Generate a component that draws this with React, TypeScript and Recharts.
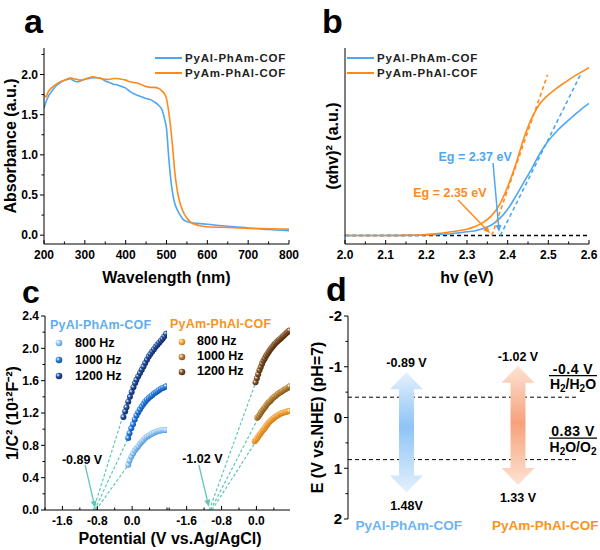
import React from 'react';
import {
  LineChart, Line, ScatterChart, Scatter, BarChart, Bar,
  XAxis, YAxis, ReferenceLine, ReferenceDot, Legend,
} from 'recharts';

const FONT = '"Liberation Sans", Arial, Helvetica, sans-serif';
const BLUE = '#4ea7f2';
const ORANGE = '#ff8a1c';
const TEAL = '#5ec7b5';
const seriesNames = ['PyAl-PhAm-COF', 'PyAm-PhAl-COF'];

// (a) UV-vis absorbance
const wavelength = [200, 205, 210, 220, 230, 240, 250, 260, 265, 270, 280, 290, 300, 310, 320, 330, 340, 350, 360, 370, 380, 390, 400, 410, 420, 430, 440, 450, 460, 470, 480, 490, 495, 500, 505, 510, 515, 520, 525, 530, 540, 550, 560, 580, 600, 650, 700, 750, 800];
const absPyAlPhAm = [1.58, 1.66, 1.72, 1.8, 1.86, 1.9, 1.93, 1.94, 1.95, 1.93, 1.91, 1.92, 1.94, 1.95, 1.96, 1.96, 1.95, 1.92, 1.9, 1.88, 1.87, 1.85, 1.83, 1.79, 1.76, 1.74, 1.72, 1.7, 1.69, 1.66, 1.62, 1.55, 1.45, 1.33, 1.0, 0.72, 0.52, 0.4, 0.33, 0.28, 0.2, 0.17, 0.155, 0.145, 0.135, 0.11, 0.09, 0.07, 0.055];
const absPyAmPhAl = [1.75, 1.72, 1.78, 1.84, 1.88, 1.91, 1.93, 1.95, 1.96, 1.95, 1.94, 1.93, 1.94, 1.96, 1.97, 1.96, 1.95, 1.94, 1.94, 1.95, 1.95, 1.94, 1.93, 1.91, 1.9, 1.89, 1.87, 1.85, 1.84, 1.84, 1.83, 1.79, 1.76, 1.7, 1.55, 1.35, 1.1, 0.8, 0.6, 0.46, 0.3, 0.21, 0.16, 0.12, 0.105, 0.095, 0.085, 0.08, 0.075];
const ticksAx = [200, 250, 300, 350, 400, 450, 500, 550, 600, 650, 700, 750, 800];
const labelsAx = [200, 300, 400, 500, 600, 700, 800];
const ticksAy = [0, 0.25, 0.5, 0.75, 1, 1.25, 1.5, 1.75, 2, 2.25];
const labelsAy = [0, 0.5, 1, 1.5, 2];

// (b) Tauc plot
const photonEnergy = [2.0, 2.05, 2.1, 2.15, 2.2, 2.22, 2.24, 2.26, 2.28, 2.3, 2.32, 2.34, 2.36, 2.38, 2.4, 2.42, 2.44, 2.46, 2.48, 2.5, 2.52, 2.54, 2.56, 2.58, 2.6];
const taucPyAlPhAm = [0, 0, 0, 0.1, 0.3, 0.4, 0.7, 1.0, 1.5, 2.0, 2.6, 3.8, 5.6, 9, 14, 21, 28.5, 36, 44, 50.5, 55.5, 59.7, 63.5, 67.2, 70.5];
const taucPyAmPhAl = [0, 0, 0.05, 0.2, 0.6, 0.9, 1.4, 2.0, 2.6, 3.4, 4.8, 7.0, 10.5, 16.5, 26, 38, 52, 63, 70.5, 75, 78.5, 81.5, 84.5, 87, 89.6];
const ticksBx = [2.0, 2.05, 2.1, 2.15, 2.2, 2.25, 2.3, 2.35, 2.4, 2.45, 2.5, 2.55, 2.6];
const labelsBx = [2.0, 2.1, 2.2, 2.3, 2.4, 2.5, 2.6];
const fitBStart = [2.382, 2.361];
const fitBEnd = [[2.581, 86.6], [2.498, 85.7]];
const egLabels = ['Eg = 2.37 eV', 'Eg = 2.35 eV'];
const egText = [[2.32, 42], [2.258, 22.7]];
const egArrow = [[[2.364, 38.7], [2.379, 1.9]], [[2.278, 19], [2.357, 1.2]]];

// (c) Mott-Schottky
const freqLabels = ['800 Hz', '1000 Hz', '1200 Hz'];
const msAlX = [-0.09, -0.06, -0.02, 0.02, 0.06, 0.1, 0.14, 0.18, 0.22, 0.26, 0.3, 0.34, 0.38, 0.42, 0.46, 0.5, 0.54, 0.58, 0.62, 0.66, 0.7, 0.74, 0.78];
const msAl800 = [0.56, 0.61, 0.66, 0.7, 0.735, 0.765, 0.79, 0.82, 0.845, 0.865, 0.89, 0.905, 0.92, 0.935, 0.945, 0.955, 0.965, 0.975, 0.98, 0.985, 0.99, 0.99, 0.99];
const msAl1000 = [0.89, 0.95, 1.01, 1.06, 1.12, 1.17, 1.21, 1.245, 1.28, 1.31, 1.34, 1.365, 1.385, 1.405, 1.42, 1.44, 1.455, 1.47, 1.485, 1.5, 1.51, 1.52, 1.53];
const msAl1200X = [-0.2, -0.16, -0.13, -0.09, -0.05, -0.01, 0.03, 0.07, 0.1, 0.14, 0.18, 0.22, 0.26, 0.3, 0.34, 0.38, 0.42, 0.46, 0.5, 0.54, 0.58, 0.62, 0.66, 0.7, 0.74, 0.78];
const msAl1200 = [1.15, 1.22, 1.27, 1.34, 1.4, 1.46, 1.52, 1.57, 1.61, 1.655, 1.695, 1.735, 1.775, 1.82, 1.86, 1.9, 1.93, 1.96, 1.99, 2.02, 2.045, 2.07, 2.095, 2.12, 2.15, 2.18];
const msAm800X = [-0.04, -0.01, 0.02, 0.05, 0.08, 0.11, 0.14, 0.17, 0.2, 0.23, 0.26, 0.29, 0.32, 0.35, 0.38, 0.41, 0.44, 0.47, 0.5, 0.53, 0.56, 0.59, 0.62, 0.65, 0.68, 0.71, 0.74, 0.76];
const msAm800 = [0.85, 0.87, 0.89, 0.915, 0.935, 0.96, 0.98, 1.0, 1.02, 1.045, 1.065, 1.085, 1.1, 1.115, 1.13, 1.145, 1.155, 1.165, 1.175, 1.185, 1.195, 1.2, 1.205, 1.21, 1.215, 1.22, 1.225, 1.225];
const msAm1000X = [0.02, 0.05, 0.08, 0.11, 0.14, 0.17, 0.2, 0.23, 0.26, 0.29, 0.32, 0.35, 0.38, 0.41, 0.44, 0.47, 0.5, 0.53, 0.56, 0.59, 0.62, 0.65, 0.68, 0.71, 0.74, 0.76];
const msAm1000 = [1.14, 1.16, 1.185, 1.21, 1.235, 1.255, 1.275, 1.3, 1.32, 1.335, 1.35, 1.37, 1.385, 1.4, 1.41, 1.425, 1.44, 1.45, 1.46, 1.47, 1.48, 1.49, 1.5, 1.51, 1.52, 1.53];
const msAm1200X = [-0.02, 0.01, 0.04, 0.07, 0.1, 0.13, 0.16, 0.19, 0.22, 0.25, 0.28, 0.31, 0.34, 0.37, 0.4, 0.43, 0.46, 0.49, 0.52, 0.55, 0.58, 0.61, 0.64, 0.67, 0.7, 0.73, 0.76];
const msAm1200 = [1.58, 1.63, 1.68, 1.73, 1.77, 1.81, 1.845, 1.875, 1.905, 1.93, 1.955, 1.98, 2.0, 2.02, 2.04, 2.06, 2.075, 2.09, 2.105, 2.12, 2.135, 2.15, 2.165, 2.18, 2.195, 2.21, 2.22];
const fitAl = [[-0.83, -0.03, 0.6], [-0.86, 0.02, 1.02], [-0.89, 0.02, 1.56]];
const fitAm = [[-1.02, 0.05, 0.9], [-1.05, 0.15, 1.25], [-1.08, 0.2, 1.9]];
const flatBand = ['-0.89 V', '-1.02 V'];
const ticksCxL = [-2.0, -1.6, -1.2, -0.8, -0.4, 0, 0.4, 0.8];
const ticksCxR = [-2.0, -1.6, -1.2, -0.8, -0.4, 0, 0.4];
const labelsCx = [-1.6, -0.8, 0];
const ticksCy = [0, 0.2, 0.4, 0.6, 0.8, 1.0, 1.2, 1.4, 1.6, 1.8, 2.0, 2.2, 2.4];
const labelsCy = [0, 0.4, 0.8, 1.2, 1.6, 2.0, 2.4];

// (d) band positions
const cbValues = [-0.89, -1.02];
const vbValues = [1.48, 1.33];
const cbLabels = ['-0.89 V', '-1.02 V'];
const vbLabels = ['1.48V', '1.33 V'];
const ticksDy = [-2, -1.5, -1, -0.5, 0, 0.5, 1, 1.5, 2];
const labelsDy = [-2, -1, 0, 1, 2];

const dataA = wavelength.map((w, i) => ({ w, s1: absPyAlPhAm[i], s2: absPyAmPhAl[i] }));
const dataB = photonEnergy.map((e, i) => ({ e, s1: taucPyAlPhAm[i], s2: taucPyAmPhAl[i] }));
const toPts = (xs: number[], ys: number[]) => xs.map((x, i) => ({ x, y: ys[i] }));
const bandData = seriesNames.map((name, i) => ({ name, band: [cbValues[i], vbValues[i]], cb: cbLabels[i], vb: vbLabels[i] }));

const msLeft = [
  { id: 'al800', data: toPts(msAlX, msAl800), base: '#9fcdf5', dark: '#4f95d8' },
  { id: 'al1000', data: toPts(msAlX, msAl1000), base: '#2a84e6', dark: '#0f4ca6' },
  { id: 'al1200', data: toPts(msAl1200X, msAl1200), base: '#2656a6', dark: '#0b2460' },
];
const msRight = [
  { id: 'am800', data: toPts(msAm800X, msAm800), base: '#f7a83e', dark: '#cf7810' },
  { id: 'am1000', data: toPts(msAm1000X, msAm1000), base: '#c08a3c', dark: '#7a5218' },
  { id: 'am1200', data: toPts(msAm1200X, msAm1200), base: '#8a5a2a', dark: '#45260a' },
];

const has = (list: number[], v: number) => list.some((t) => Math.abs(t - v) < 1e-6);

const xTick = (labelled: number[], fmt: (v: number) => string) => (p: any) => {
  const v = p.payload.value;
  const major = has(labelled, v);
  return (
    <g>
      <line x1={p.x} x2={p.x} y1={p.y} y2={p.y - (major ? 4 : 2.5)} stroke="#000" />
      {major && (
        <text x={p.x} y={p.y + 15} textAnchor="middle" fontSize={12} fontWeight="bold" fill="#000">{fmt(v)}</text>
      )}
    </g>
  );
};

const yTick = (labelled: number[], fmt: (v: number) => string, fs = 12) => (p: any) => {
  const v = p.payload.value;
  const major = has(labelled, v);
  return (
    <g>
      <line x1={p.x} x2={p.x - (major ? 4 : 2.5)} y1={p.y} y2={p.y} stroke="#000" />
      {major && (
        <text x={p.x - 6} y={p.y + fs * 0.36} textAnchor="end" fontSize={fs} fontWeight="bold" fill="#000">{fmt(v)}</text>
      )}
    </g>
  );
};

const arrowShape = (color: string, w = 1.3) => (p: any) => {
  const { x1, y1, x2, y2 } = p;
  const a = Math.atan2(y2 - y1, x2 - x1);
  const hx = x2 - 7 * Math.cos(a);
  const hy = y2 - 7 * Math.sin(a);
  const px = -Math.sin(a) * 3;
  const py = Math.cos(a) * 3;
  return (
    <g>
      <line x1={x1} y1={y1} x2={hx} y2={hy} stroke={color} strokeWidth={w} />
      <polygon points={`${x2},${y2} ${hx + px},${hy + py} ${hx - px},${hy - py}`} fill={color} />
    </g>
  );
};

const lineLegend = () => (
  <div style={{ fontFamily: FONT, fontSize: 11.5, fontWeight: 'bold', letterSpacing: 0.8 }}>
    {seriesNames.map((n, i) => (
      <div key={n} style={{ display: 'flex', alignItems: 'center', height: 15 }}>
        <span style={{ display: 'inline-block', width: 27, height: 2, background: i === 0 ? BLUE : ORANGE, marginRight: 3 }} />
        <span style={{ color: '#222' }}>{n}</span>
      </div>
    ))}
  </div>
);

const sphereLegend = (title: string, color: string, series: any[], dotX: number, textX: number, rowH: number) => () => (
  <div style={{ fontFamily: FONT, fontWeight: 'bold', position: 'relative', width: 120 }}>
    <div style={{ height: 20, lineHeight: '20px', fontSize: 12.5, color, letterSpacing: 0.2 }}>{title}</div>
    {series.map((s, i) => (
      <div key={s.id} style={{ height: rowH, position: 'relative' }}>
        <svg width={10} height={10} style={{ position: 'absolute', left: dotX - 5, top: rowH / 2 - 5 }}>
          <defs>
            <radialGradient id={`lg-${s.id}`} cx="35%" cy="35%" r="70%">
              <stop offset="0%" stopColor="#ffffff" />
              <stop offset="40%" stopColor={s.base} />
              <stop offset="100%" stopColor={s.dark} />
            </radialGradient>
          </defs>
          <circle cx={5} cy={5} r={3.3} fill={`url(#lg-${s.id})`} />
        </svg>
        <span style={{ position: 'absolute', left: textX, top: 0, lineHeight: `${rowH}px`, fontSize: 12.5, color: '#000' }}>{freqLabels[i]}</span>
      </div>
    ))}
  </div>
);

const sphere = (id: string) => (p: any) => <circle cx={p.cx} cy={p.cy} r={3} fill={`url(#sp-${id})`} />;

const sphereDefs = (series: any[]) => (
  <defs>
    {series.map((s) => (
      <radialGradient key={s.id} id={`sp-${s.id}`} cx="35%" cy="35%" r="70%">
        <stop offset="0%" stopColor="#ffffff" />
        <stop offset="40%" stopColor={s.base} />
        <stop offset="100%" stopColor={s.dark} />
      </radialGradient>
    ))}
  </defs>
);

const BandArrow = (p: any) => {
  const { x, y, width, height, index, payload } = p;
  const top = Math.min(y, y + height);
  const bot = Math.max(y, y + height);
  const cx = x + width / 2;
  const hw = 16.5;
  const sw = 7.5;
  const hl = 17;
  const pts = [
    [cx, top], [cx + hw, top + hl], [cx + sw, top + hl], [cx + sw, bot - hl], [cx + hw, bot - hl],
    [cx, bot], [cx - hw, bot - hl], [cx - sw, bot - hl], [cx - sw, top + hl], [cx - hw, top + hl],
  ].map((q) => q.join(',')).join(' ');
  return (
    <g>
      <polygon points={pts} fill={`url(#band-${index})`} />
      <text x={cx} y={top - 5} textAnchor="middle" fontSize={12.5} fontWeight="bold" fill="#000">{payload.cb}</text>
      <text x={cx} y={bot + 17} textAnchor="middle" fontSize={12.5} fontWeight="bold" fill="#000">{payload.vb}</text>
    </g>
  );
};

const redoxLabel = (top: string, sub: React.ReactNode) => (p: any) => {
  const vb = p.viewBox || { x: 0, y: 0, width: 0 };
  const cx = vb.x + vb.width - 4;
  const y = vb.y;
  return (
    <g>
      <text x={cx} y={y - 23.5} textAnchor="middle" fontSize={14} fontWeight="bold" fill="#000" letterSpacing={0.5}>{top}</text>
      <line x1={cx - 24} x2={cx + 24} y1={y - 21.5} y2={y - 21.5} stroke="#000" strokeWidth={1.3} />
      <text x={cx} y={y - 8} textAnchor="middle" fontSize={14} fontWeight="bold" fill="#000">{sub}</text>
    </g>
  );
};

const catColors = ['#6cb4f5', '#f7941d'];
const catDx = [2, 27];
const catTick = (p: any) => (
  <text x={p.x + catDx[p.index]} y={p.y + 11} textAnchor="middle" fontSize={13.5} fontWeight="bold" fill={catColors[p.index]}>{p.payload.value}</text>
);

const axisTitle = { fill: '#000', fontSize: 16, fontWeight: 'bold' };

export default function App() {
  return (
    <div style={{ position: 'absolute', left: 0, top: 0, width: 600, height: 550, background: '#fff', fontFamily: FONT }}>
      {/* a */}
      <div style={{ position: 'absolute', left: 0, top: 0 }}>
        <LineChart width={300} height={290} data={dataA} margin={{ top: 48, right: 11, bottom: 0, left: 0 }}>
          <XAxis dataKey="w" type="number" domain={[200, 800]} allowDataOverflow ticks={ticksAx} interval={0} height={46}
            tickSize={0} tickMargin={0} tickLine={false} stroke="#000" tick={xTick(labelsAx, (v) => String(v))}
            label={{ value: 'Wavelength (nm)', position: 'insideBottom', offset: 7, ...axisTitle }} />
          <XAxis xAxisId="top" orientation="top" dataKey="w" type="number" domain={[200, 800]} height={0} tick={false} tickLine={false} stroke="#000" />
          <YAxis type="number" domain={[-0.11, 2.33]} allowDataOverflow ticks={ticksAy} interval={0} width={44}
            tickSize={0} tickMargin={0} tickLine={false} stroke="#000" tick={yTick(labelsAy, (v) => v.toFixed(1))}
            label={{ value: 'Absorbance (a.u.)', angle: -90, position: 'insideLeft', offset: 10, style: { textAnchor: 'middle' }, ...axisTitle }} />
          <YAxis yAxisId="r" orientation="right" type="number" domain={[-0.11, 2.33]} width={0} tick={false} tickLine={false} stroke="#000" />
          <Legend layout="vertical" align="center" verticalAlign="middle" content={lineLegend} wrapperStyle={{ left: 155, top: 50, width: 'auto' }} />
          <Line type="monotone" dataKey="s1" stroke={BLUE} strokeWidth={1.6} dot={false} isAnimationActive={false} />
          <Line type="monotone" dataKey="s2" stroke={ORANGE} strokeWidth={1.6} dot={false} isAnimationActive={false} />
        </LineChart>
      </div>

      {/* b */}
      <div style={{ position: 'absolute', left: 300, top: 0 }}>
        <LineChart width={300} height={290} data={dataB} margin={{ top: 48, right: 11, bottom: 0, left: 0 }}>
          <XAxis dataKey="e" type="number" domain={[2.0, 2.6]} allowDataOverflow ticks={ticksBx} interval={0} height={46}
            tickSize={0} tickMargin={0} tickLine={false} stroke="#000" tick={xTick(labelsBx, (v) => v.toFixed(1))}
            label={{ value: 'hv (eV)', position: 'insideBottom', offset: 7, ...axisTitle }} />
          <XAxis xAxisId="top" orientation="top" dataKey="e" type="number" domain={[2.0, 2.6]} height={0} tick={false} tickLine={false} stroke="#000" />
          <YAxis type="number" domain={[-4.5, 100]} allowDataOverflow width={45} tick={false} tickLine={false} stroke="#000"
            label={{ value: '(\u03B1hv)\u00B2 (a.u.)', angle: -90, position: 'insideLeft', offset: 32, style: { textAnchor: 'middle' }, ...axisTitle }} />
          <YAxis yAxisId="r" orientation="right" type="number" domain={[-4.5, 100]} width={0} tick={false} tickLine={false} stroke="#000" />
          <Legend layout="vertical" align="center" verticalAlign="middle" content={lineLegend} wrapperStyle={{ left: 47, top: 50, width: 'auto' }} />
          <ReferenceLine y={0} stroke="#000" strokeWidth={1.5} strokeDasharray="4 3" />
          <Line type="monotone" dataKey="s1" stroke={BLUE} strokeWidth={1.6} dot={false} isAnimationActive={false} />
          <Line type="monotone" dataKey="s2" stroke={ORANGE} strokeWidth={1.6} dot={false} isAnimationActive={false} />
          {fitBStart.map((x0, i) => (
            <ReferenceLine key={`fit${i}`} segment={[{ x: x0, y: 0 }, { x: fitBEnd[i][0], y: fitBEnd[i][1] }]}
              stroke={i === 0 ? BLUE : ORANGE} strokeWidth={1.6} strokeDasharray="4 3" />
          ))}
          {egArrow.map((seg, i) => (
            <ReferenceLine key={`arr${i}`} segment={[{ x: seg[0][0], y: seg[0][1] }, { x: seg[1][0], y: seg[1][1] }]}
              stroke={i === 0 ? BLUE : ORANGE} shape={arrowShape(i === 0 ? BLUE : ORANGE, 1.5)} />
          ))}
          {egLabels.map((t, i) => (
            <ReferenceDot key={t} x={egText[i][0]} y={egText[i][1]} r={0} fill="none" stroke="none"
              label={{ value: t, position: 'center', fill: i === 0 ? BLUE : ORANGE, fontSize: 12.5, fontWeight: 'bold' }} />
          ))}
        </LineChart>
      </div>

      {/* c left */}
      <div style={{ position: 'absolute', left: 0, top: 280 }}>
        <ScatterChart width={170} height={270} margin={{ top: 36, right: 3, bottom: 0, left: 0 }}>
          {sphereDefs(msLeft)}
          <XAxis dataKey="x" type="number" domain={[-2, 0.8]} allowDataOverflow ticks={ticksCxL} interval={0} height={40}
            tickSize={0} tickMargin={0} tickLine={false} stroke="#000" tick={xTick(labelsCx, (v) => v.toFixed(1))} />
          <XAxis xAxisId="top" orientation="top" dataKey="x" type="number" domain={[-2, 0.8]} height={0} tick={false} tickLine={false} stroke="#000" />
          <YAxis dataKey="y" type="number" domain={[0, 2.4]} allowDataOverflow ticks={ticksCy} interval={0} width={45}
            tickSize={0} tickMargin={0} tickLine={false} stroke="#000" tick={yTick(labelsCy, (v) => v.toFixed(1))}
            label={{ value: '1/C\u00B2 (10\u00B9\u00B2F\u207B\u00B2)', angle: -90, position: 'insideLeft', offset: 12, style: { textAnchor: 'middle' }, ...axisTitle }} />
          <YAxis yAxisId="r" orientation="right" type="number" domain={[0, 2.4]} width={0} tick={false} tickLine={false} stroke="#000" />
          <Legend layout="vertical" align="center" verticalAlign="middle" wrapperStyle={{ left: 50, top: 35, width: 'auto' }}
            content={sphereLegend(seriesNames[0], '#5fadf0', msLeft, 9, 25, 16.5)} />
          {msLeft.map((s) => (
            <Scatter key={s.id} data={s.data} shape={sphere(s.id)} isAnimationActive={false} />
          ))}
          {fitAl.map((f, i) => (
            <ReferenceLine key={`fa${i}`} segment={[{ x: f[0], y: 0 }, { x: f[1], y: f[2] }]} stroke={TEAL} strokeWidth={1.2} strokeDasharray="3 2" />
          ))}
          <ReferenceLine segment={[{ x: -1.08, y: 0.557 }, { x: -0.85, y: 0.025 }]} stroke={TEAL} shape={arrowShape(TEAL)} />
          <ReferenceDot x={-1.15} y={0.63} r={0} fill="none" stroke="none"
            label={{ value: flatBand[0], position: 'center', fill: '#000', fontSize: 12.5, fontWeight: 'bold' }} />
        </ScatterChart>
      </div>

      {/* c right */}
      <div style={{ position: 'absolute', left: 167, top: 280 }}>
        <ScatterChart width={133} height={270} margin={{ top: 36, right: 10, bottom: 0, left: 0 }}>
          {sphereDefs(msRight)}
          <XAxis dataKey="x" type="number" domain={[-2.05, 0.77]} allowDataOverflow ticks={ticksCxR} interval={0} height={40}
            tickSize={0} tickMargin={0} tickLine={false} stroke="#000" tick={xTick(labelsCx, (v) => v.toFixed(1))} />
          <XAxis xAxisId="top" orientation="top" dataKey="x" type="number" domain={[-2.05, 0.77]} height={0} tick={false} tickLine={false} stroke="#000" />
          <YAxis dataKey="y" type="number" domain={[0, 2.4]} allowDataOverflow width={0} tick={false} tickLine={false} stroke="#000" />
          <YAxis yAxisId="r" orientation="right" type="number" domain={[0, 2.4]} width={0} tick={false} tickLine={false} stroke="#000" />
          <Legend layout="vertical" align="center" verticalAlign="middle" wrapperStyle={{ left: 3, top: 34, width: 'auto' }}
            content={sphereLegend(seriesNames[1], '#f7941d', msRight, 12, 27, 15)} />
          {msRight.map((s) => (
            <Scatter key={s.id} data={s.data} shape={sphere(s.id)} isAnimationActive={false} />
          ))}
          {fitAm.map((f, i) => (
            <ReferenceLine key={`fm${i}`} segment={[{ x: f[0], y: 0 }, { x: f[1], y: f[2] }]} stroke={TEAL} strokeWidth={1.2} strokeDasharray="3 2" />
          ))}
          <ReferenceLine segment={[{ x: -1.32, y: 0.557 }, { x: -1.09, y: 0.04 }]} stroke={TEAL} shape={arrowShape(TEAL)} />
          <ReferenceDot x={-1.24} y={0.64} r={0} fill="none" stroke="none"
            label={{ value: flatBand[1], position: 'center', fill: '#000', fontSize: 12.5, fontWeight: 'bold' }} />
        </ScatterChart>
      </div>

      {/* d */}
      <div style={{ position: 'absolute', left: 300, top: 280 }}>
        <BarChart width={300} height={270} data={bandData} margin={{ top: 36, right: 23, bottom: 0, left: 0 }}>
          <defs>
            <linearGradient id="band-0" x1="0" y1="0" x2="0" y2="1">
              <stop offset="0%" stopColor="#e4f1fd" />
              <stop offset="45%" stopColor="#8ec4f5" />
              <stop offset="100%" stopColor="#e4f1fd" />
            </linearGradient>
            <linearGradient id="band-1" x1="0" y1="0" x2="0" y2="1">
              <stop offset="0%" stopColor="#fde3d3" />
              <stop offset="48%" stopColor="#f6a27c" />
              <stop offset="100%" stopColor="#fde3d3" />
            </linearGradient>
          </defs>
          <XAxis dataKey="name" type="category" height={31} axisLine={false} tickLine={false} tickSize={0} tickMargin={0}
            padding={{ left: 3, right: 3 }} interval={0} tick={catTick} />
          <YAxis type="number" domain={[-2, 2]} reversed allowDataOverflow ticks={ticksDy} interval={0} width={48}
            tickSize={0} tickMargin={0} tickLine={false} stroke="#000" tick={yTick(labelsDy, (v) => String(v), 15)}
            label={{ value: 'E (V vs.NHE) (pH=7)', angle: -90, position: 'insideLeft', offset: 17, style: { textAnchor: 'middle' }, ...axisTitle }} />
          <ReferenceLine y={-0.4} stroke="#000" strokeWidth={1} strokeDasharray="4 3" zIndex={100}
            label={redoxLabel('-0.4 V', <>H<tspan dy={3} fontSize={10}>2</tspan><tspan dy={-3}>/H</tspan><tspan dy={3} fontSize={10}>2</tspan><tspan dy={-3}>O</tspan></>)} />
          <ReferenceLine y={0.83} stroke="#000" strokeWidth={1} strokeDasharray="4 3" zIndex={100}
            label={redoxLabel('0.83 V', <>H<tspan dy={3} fontSize={10}>2</tspan><tspan dy={-3}>O/O</tspan><tspan dy={3} fontSize={10}>2</tspan></>)} />
          <Bar dataKey="band" barSize={33} shape={BandArrow} isAnimationActive={false} zIndex={300} />
        </BarChart>
      </div>

      <svg width={600} height={550} style={{ position: 'absolute', left: 0, top: 0, pointerEvents: 'none' }}>
        <g fontFamily={FONT} fontWeight="bold" fill="#000">
          <text x={24} y={33} fontSize={34}>a</text>
          <text x={322} y={33} fontSize={34}>b</text>
          <text x={22} y={303} fontSize={32}>c</text>
          <text x={326} y={301} fontSize={34}>d</text>
          <text x={170} y={544} fontSize={16} textAnchor="middle">Potential (V vs.Ag/AgCl)</text>
        </g>
      </svg>
    </div>
  );
}
